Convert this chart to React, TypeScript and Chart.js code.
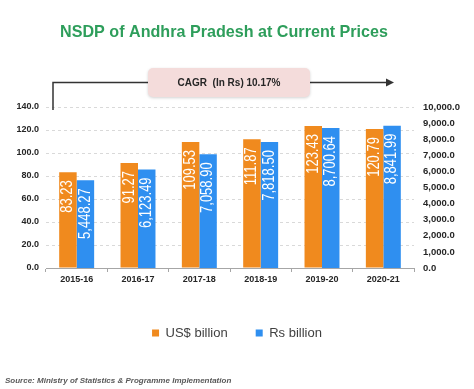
import React, { useEffect, useRef } from "react";
import { Chart, registerables } from "chart.js";

Chart.register(...registerables);

const categories = ["2015-16", "2016-17", "2017-18", "2018-19", "2019-20", "2020-21"];
const usdBillion = [83.23, 91.27, 109.53, 111.87, 123.43, 120.79];
const rsBillion = [5448.27, 6123.49, 7058.9, 7818.5, 8700.64, 8841.99];
const usdLabels = ["83.23", "91.27", "109.53", "111.87", "123.43", "120.79"];
const rsLabels = ["5,448.27", "6,123.49", "7,058.90", "7,818.50", "8,700.64", "8,841.99"];
const titleText = "NSDP of Andhra Pradesh at Current Prices";
const cagrText = "CAGR  (In Rs) 10.17%";
const sourceText = "Source: Ministry of Statistics & Programme Implementation";

const FONT = "'Liberation Sans', Arial, sans-serif";
const ORANGE = "#F08A1E";
const BLUE = "#2F8FF0";

const labelsPlugin = {
  id: "barLabels",
  afterDatasetsDraw(chart: any) {
    const ctx = chart.ctx;
    const texts = [usdLabels, rsLabels];
    chart.data.datasets.forEach((_ds: any, di: number) => {
      const meta = chart.getDatasetMeta(di);
      meta.data.forEach((bar: any, i: number) => {
        ctx.save();
        ctx.translate(bar.x, bar.y + 8);
        ctx.rotate(-Math.PI / 2);
        ctx.scale(1, 1.2);
        ctx.font = `13px ${FONT}`;
        ctx.fillStyle = "#ffffff";
        ctx.textAlign = "right";
        ctx.textBaseline = "middle";
        ctx.fillText(texts[di][i], 0, 0);
        ctx.restore();
      });
    });
  },
};

const decorPlugin = {
  id: "decor",
  afterDraw(chart: any) {
    const ctx = chart.ctx;
    // Title
    ctx.save();
    ctx.font = `bold 17px ${FONT}`;
    ctx.fillStyle = "#2E9E5B";
    ctx.textAlign = "center";
    ctx.textBaseline = "middle";
    const w = ctx.measureText(titleText).width;
    const sx = 328 / w;
    ctx.translate(224, 32);
    ctx.scale(sx, 1);
    ctx.fillText(titleText, 0, 0);
    ctx.restore();

    // CAGR arrow
    ctx.save();
    ctx.strokeStyle = "#333333";
    ctx.lineWidth = 1.5;
    ctx.beginPath();
    ctx.moveTo(53, 110);
    ctx.lineTo(53, 82.5);
    ctx.lineTo(150, 82.5);
    ctx.moveTo(308, 82.5);
    ctx.lineTo(388, 82.5);
    ctx.stroke();
    ctx.fillStyle = "#333333";
    ctx.beginPath();
    ctx.moveTo(394, 82.5);
    ctx.lineTo(386, 78.5);
    ctx.lineTo(386, 86.5);
    ctx.closePath();
    ctx.fill();
    ctx.restore();

    // CAGR box
    ctx.save();
    ctx.shadowColor = "rgba(0,0,0,0.18)";
    ctx.shadowBlur = 3;
    ctx.shadowOffsetY = 1;
    ctx.fillStyle = "#F4DCDB";
    ctx.beginPath();
    (ctx as any).roundRect(148, 68, 162, 29, 5);
    ctx.fill();
    ctx.restore();
    ctx.save();
    ctx.font = `bold 10px ${FONT}`;
    ctx.fillStyle = "#262626";
    ctx.textAlign = "center";
    ctx.textBaseline = "middle";
    ctx.fillText(cagrText, 229, 83);
    ctx.restore();

    // Source
    ctx.save();
    ctx.font = `italic bold 8px ${FONT}`;
    ctx.fillStyle = "#595959";
    ctx.textAlign = "left";
    ctx.textBaseline = "middle";
    ctx.fillText(sourceText, 5, 381);
    ctx.restore();
  },
};

export default function App() {
  const ref = useRef<HTMLCanvasElement>(null);
  useEffect(() => {
    if (!ref.current) return;
    const chart = new Chart(ref.current, {
      type: "bar",
      data: {
        labels: categories,
        datasets: [
          {
            label: "US$ billion",
            data: usdBillion,
            backgroundColor: ORANGE,
            yAxisID: "y",
            categoryPercentage: 0.57,
            barPercentage: 1,
          },
          {
            label: "Rs billion",
            data: rsBillion,
            backgroundColor: BLUE,
            yAxisID: "y1",
            categoryPercentage: 0.57,
            barPercentage: 1,
          },
        ],
      },
      options: {
        responsive: false,
        animation: false,
        layout: { padding: { top: 107, bottom: 39.5, left: 0, right: 0 } },
        plugins: {
          legend: {
            position: "bottom",
            labels: {
              boxWidth: 7,
              boxHeight: 7,
              padding: 28,
              color: "#404040",
              font: { family: FONT, size: 13 },
            },
          },
          title: { display: false },
          tooltip: { enabled: false },
        },
        scales: {
          x: {
            grid: { display: true, drawOnChartArea: false, drawTicks: true, tickLength: 4, color: "#A6A6A6", offset: true },
            border: { display: true, color: "#A6A6A6" },
            ticks: { color: "#262626", font: { family: FONT, size: 9, weight: "bold" }, padding: 2 },
            afterFit(axis: any) {
              axis.height = 30.5;
            },
          },
          y: {
            position: "left",
            min: 0,
            max: 140,
            grid: { color: "#D9D9D9", drawTicks: false, tickLength: 0 },
            border: { display: false, dash: [3, 3] },
            ticks: {
              stepSize: 20,
              padding: 7,
              color: "#262626",
              font: { family: FONT, size: 9, weight: "bold" },
              callback: (v: any) => Number(v).toFixed(1),
            },
            afterFit(axis: any) {
              axis.width = 46;
            },
          },
          y1: {
            position: "right",
            min: 0,
            max: 10000,
            grid: { display: false, drawTicks: false, tickLength: 0 },
            border: { display: false },
            ticks: {
              stepSize: 1000,
              padding: 9,
              color: "#262626",
              font: { family: FONT, size: 9.5, weight: "bold" },
              callback: (v: any) =>
                Number(v).toLocaleString("en-US", { minimumFractionDigits: 1, maximumFractionDigits: 1 }),
            },
            afterFit(axis: any) {
              axis.width = 60;
            },
          },
        },
      } as any,
      plugins: [labelsPlugin, decorPlugin],
    });
    return () => chart.destroy();
  }, []);
  return (
    <div style={{ position: "absolute", left: 0, top: 0, width: 474, height: 389, background: "#ffffff" }}>
      <canvas ref={ref} width={474} height={389} style={{ display: "block" }} />
    </div>
  );
}
